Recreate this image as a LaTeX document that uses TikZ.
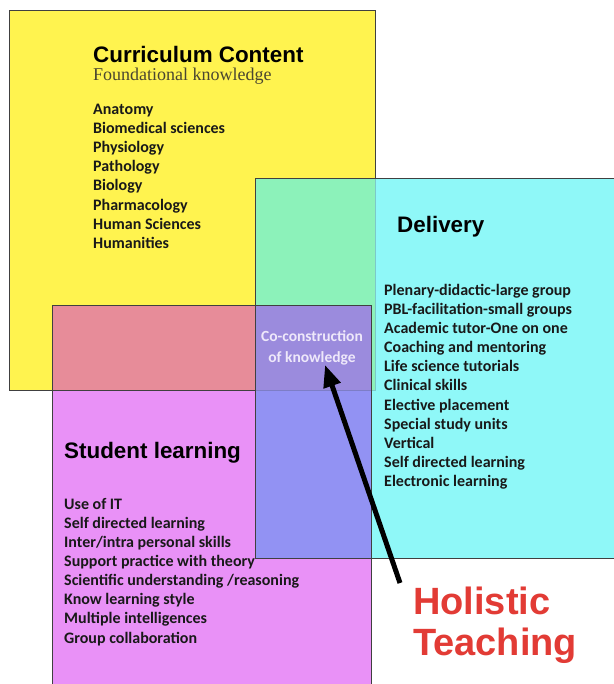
\documentclass[tikz,border=0pt]{standalone}
\usepackage{fontspec}
\setmainfont{Carlito}
\newfontfamily\headfont{Liberation Sans}
\newfontfamily\subfont{Liberation Serif}
\usepackage{tikz}
\usetikzlibrary{arrows.meta}
\definecolor{yellowC}{HTML}{FFF34F}
\definecolor{cyanC}{HTML}{8FF8F8}
\definecolor{magentaC}{HTML}{E991F7}
\definecolor{greenC}{HTML}{8CF2BA}
\definecolor{pinkC}{HTML}{E78C99}
\definecolor{blueC}{HTML}{9292F3}
\definecolor{lavC}{HTML}{9B8BDD}
\definecolor{subC}{HTML}{4A4630}
\definecolor{redC}{HTML}{E23B35}
\definecolor{coconC}{HTML}{EEE8FA}
\tikzstyle{box}=[draw=black!75,line width=0.8pt]
\tikzstyle{heading}=[anchor=base west,inner sep=0pt,font=\headfont\bfseries\fontsize{22.4}{26}\selectfont]
\tikzstyle{sub}=[anchor=base west,inner sep=0pt,text=subC,font=\subfont\fontsize{18}{20}\selectfont]
\tikzstyle{items}=[anchor=north west,inner sep=0pt,align=left,text=black!90,font=\bfseries\fontsize{16}{19.1}\selectfont]
\tikzstyle{cocon}=[anchor=north,inner sep=0pt,align=center,text=coconC,font=\bfseries\fontsize{15.5}{21}\selectfont]
\tikzstyle{holistic}=[anchor=north west,inner sep=0pt,align=left,text=redC,font=\headfont\bfseries\fontsize{38}{41}\selectfont]
\tikzstyle{pointer}=[-{Triangle[length=22pt,width=17pt]},line width=5pt]

\begin{document}
\begin{tikzpicture}[x=1pt,y=-1pt]
        \useasboundingbox (0,0) rectangle (613,684);
        % the three squares and their overlaps
        \fill[yellowC] (9,10) rectangle (375,390);
        \fill[cyanC] (255,178) rectangle (620,558);
        \fill[magentaC] (52,305) rectangle (371,690);
        \fill[greenC] (255,178) rectangle (375,390);
        \fill[pinkC] (52,305) rectangle (255,390);
        \fill[blueC] (255,390) rectangle (371,558);
        \fill[lavC] (255,305) rectangle (371,390);
        \draw[box] (375,178) -- (375,10) -- (9,10) -- (9,390) -- (255,390);
        \draw[box,draw opacity=0.25] (255,390) -- (375,390) -- (375,178);
        \draw[box] (620,178) -- (255,178) -- (255,558) -- (620,558);
        \draw[box] (52,690) -- (52,305) -- (371,305) -- (371,690);
        % texts
        \node at (93,63) [heading] (currhead) {Curriculum Content};
        \node at (93,81) [sub] (currsub) {Foundational knowledge};
        \node at (93,104) [items] (curritems) {Anatomy\\Biomedical sciences\\Physiology\\Pathology\\Biology\\Pharmacology\\Human Sciences\\Humanities};
        \node at (397,233) [heading] (delhead) {Delivery};
        \node at (384,284) [items] (delitems) {Plenary-didactic-large group\\PBL-facilitation-small groups\\Academic tutor-One on one\\Coaching and mentoring\\Life science tutorials\\Clinical skills\\Elective placement\\Special study units\\Vertical\\Self directed learning\\Electronic learning};
        \node at (64,458) [heading] (stuhead) {Student learning};
        \node at (64,498) [items] (stuitems) {Use of IT\\Self directed learning\\Inter/intra personal skills\\Support practice with theory\\Scientific understanding /reasoning\\Know learning style\\Multiple intelligences\\Group collaboration};
        \node at (312,330) [cocon] (cocon) {Co-construction\\of knowledge};
        \node at (413,587) [holistic] (holistic) {Holistic\\Teaching};
        \draw [pointer] ([xshift=-13pt,yshift=4pt]holistic.north west) -- ([xshift=13pt]cocon.south);
      \end{tikzpicture}
\end{document}
